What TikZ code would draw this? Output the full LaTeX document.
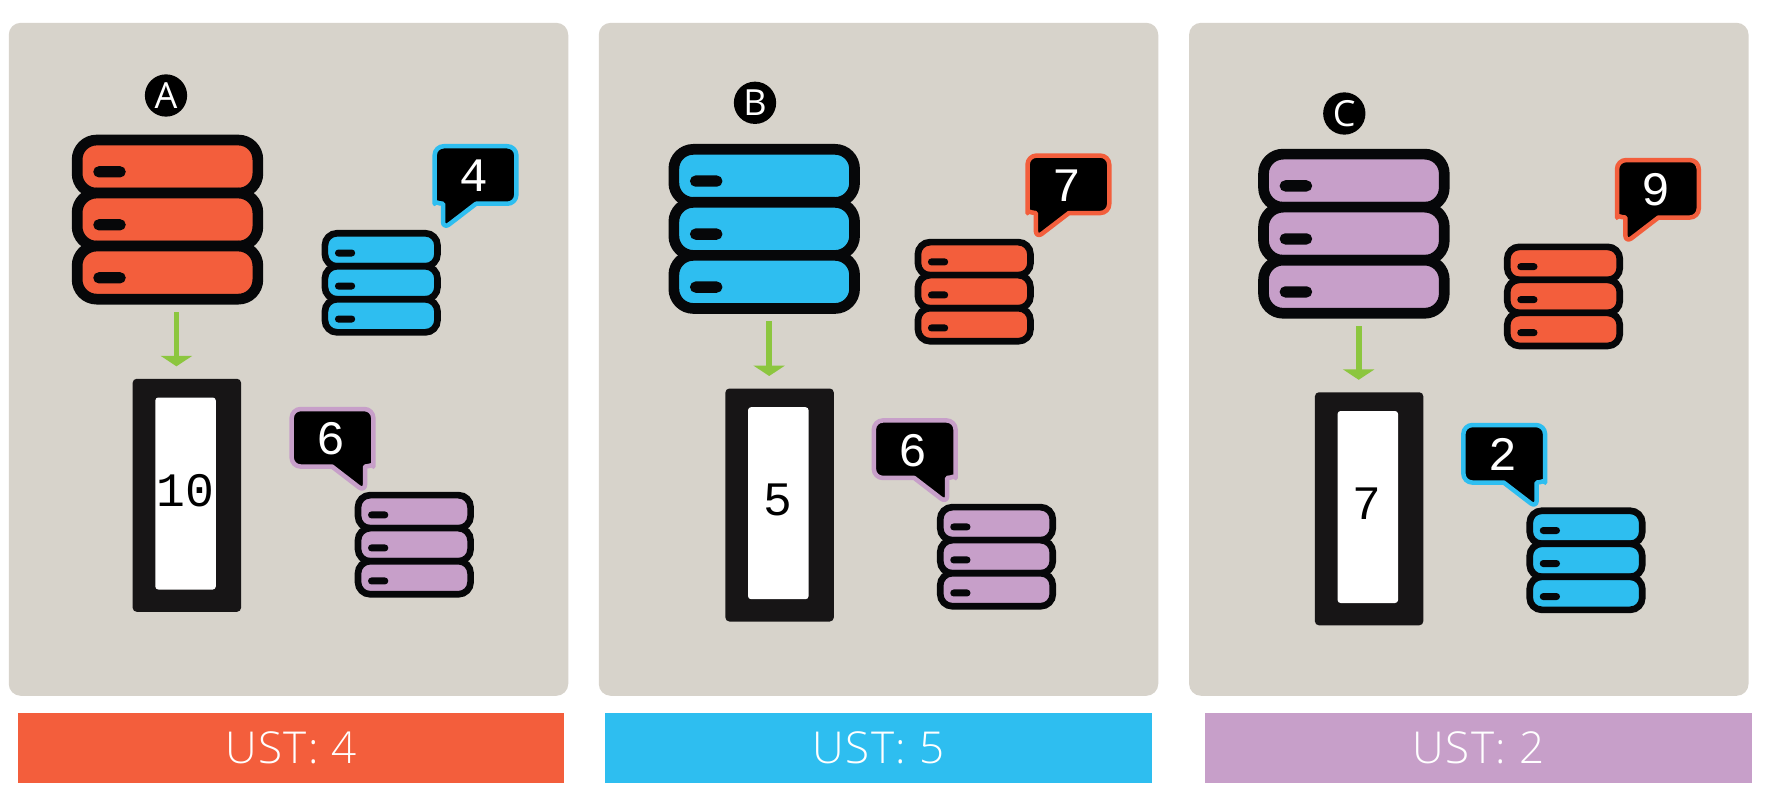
\documentclass[tikz,border=0pt]{standalone}
\usepackage{fontspec}
\setmainfont{Open Sans Light}
\newfontfamily\digitfont{Liberation Mono}
\newfontfamily\badgefont{Open Sans}
\usetikzlibrary{arrows.meta, calc}
\definecolor{MediumRed}{HTML}{F35E3C}
\definecolor{MediumBlue}{HTML}{2EBEF0}
\definecolor{MediumPurple}{HTML}{C79FC9}
\definecolor{PanelGrey}{HTML}{D7D3CB}
\definecolor{FlowGreen}{HTML}{8CC63F}
\definecolor{RackInk}{HTML}{060709}
\definecolor{ScreenInk}{HTML}{171516}

\tikzset{
    panel/.style={fill=PanelGrey, draw=none, rounded corners=12pt, minimum width=559.5pt,
        minimum height=673pt, outer sep=0pt},
    unit/.style n args={2}{draw=RackInk, fill=#1, line width=10.7pt*#2, rounded corners=19.5pt*#2,
        minimum width=180.7pt*#2, minimum height=53.1pt*#2, inner sep=0pt, outer sep=0pt},
    slot/.style={fill=RackInk, draw=none, rounded corners=5.6pt*#1, minimum width=32.5pt*#1,
        minimum height=11.3pt*#1, inner sep=0pt, outer sep=0pt},
    rack/.style={fill=ScreenInk, draw=none, rounded corners=4pt, minimum width=108.4pt,
        minimum height=233pt, outer sep=0pt},
    screen/.style={fill=white, draw=none, rounded corners=3pt, minimum width=60.5pt,
        minimum height=192pt, outer sep=0pt},
    count/.style={font=\digitfont\fontsize{48}{48}\selectfont, inner sep=0pt},
    badge/.style={circle, fill=black, minimum size=42.3pt, inner sep=0pt, text=white,
        font=\badgefont\fontsize{36}{36}\selectfont},
    bubble/.style={fill=black, line width=4.5pt, line join=round},
    total/.style={minimum width=546.5pt, minimum height=70pt, inner sep=0pt, outer sep=0pt,
        text=white, font=\fontsize{44}{44}\selectfont\addfontfeature{LetterSpace=3.5}},
    flow/.style={-{Triangle[length=10.4pt,width=31pt]}, line width=5.7pt, FlowGreen,
        shorten <=13pt, shorten >=12.5pt},
}

% name, x, y, colour, size
\newcommand{\serverstack}[5]{
    \foreach \k/\off in {1/-1, 2/0, 3/1}{
        \node[unit={#4}{#5}] (#1-\k) at (#2,{#3+\off*53*#5}) {};
        \node[slot=#5] (#1-s\k) at ([xshift=-58pt*#5,yshift=-5.2pt*#5]#1-\k.center) {};
    }
}
% name, x, y, colour, side, digit
\newcommand{\speechbox}[6]{
    \begin{scope}[shift={(#2,#3)}, xscale=#5]
        \draw[bubble, draw=#4] (0.5,28.75) [rounded corners=9pt] -- (40.85,28.75) -- (40.85,-28.75)
            -- (-40.85,-28.75) -- (-40.85,20) [sharp corners]
            .. controls (-40.85,25.5) and (-37.5,28.75) .. (-32.5,28.75)
            -- (-32.5,47) .. controls (-32.5,51) and (-29,51.5) .. (-26.5,49.5) -- cycle;
        \node[count, text=white, xshift=-1.7pt, yshift=-1pt] (#1) at (0,0) {#6};
    \end{scope}
}
% name, x, y, digit
\newcommand{\rackview}[4]{
    \node[rack] (#1) at (#2,#3) {};
    \node[screen] (#1-screen) at ([xshift=-1.3pt,yshift=1.8pt]#1.center) {};
    \node[count] (#1-count) at ([xshift=-0.5pt,yshift=3pt]#1-screen.center) {#4};
}

\begin{document}
\begin{tikzpicture}[x=1pt, y=-1pt]
\useasboundingbox (0,0) rectangle (1769,805);

% --- panel A ---
\node[panel] (panelA) at (288.5,359.3) {};
\node[badge] (labelA) at (166,95.5) {A};
\serverstack{mainA}{167.5}{219.6}{MediumRed}{1}
\rackview{rackA}{186.85}{495.3}{10}
\draw[flow] ([xshift=-10.4pt]rackA.north |- mainA-3.south) -- ([xshift=-10.4pt]rackA.north);
\serverstack{upperA}{381.2}{282.8}{MediumBlue}{0.623}
\speechbox{noteA}{475.5}{175}{MediumBlue}{1}{4}
\serverstack{lowerA}{414.3}{544.7}{MediumPurple}{0.623}
\speechbox{peerA}{332.5}{437.8}{MediumPurple}{-1}{6}
\node[total, fill=MediumRed] (totalA) at (291,748) {UST: 4};

% --- panel B ---
\node[panel] (panelB) at (878.5,359.3) {};
\node[badge] (labelB) at (755,102.8) {B};
\serverstack{mainB}{764.2}{228.9}{MediumBlue}{1}
\rackview{rackB}{779.6}{505}{5}
\draw[flow] ([xshift=-10.4pt]rackB.north |- mainB-3.south) -- ([xshift=-10.4pt]rackB.north);
\serverstack{upperB}{974.2}{291.7}{MediumRed}{0.623}
\speechbox{noteB}{1068.4}{184.3}{MediumRed}{1}{7}
\serverstack{lowerB}{996.5}{556.7}{MediumPurple}{0.623}
\speechbox{peerB}{914.7}{449.2}{MediumPurple}{-1}{6}
\node[total, fill=MediumBlue] (totalB) at (878.3,748) {UST: 5};

% --- panel C ---
\node[panel] (panelC) at (1468.8,359.3) {};
\node[badge] (labelC) at (1344.3,113.5) {C};
\serverstack{mainC}{1353.9}{233.7}{MediumPurple}{1}
\rackview{rackC}{1369.1}{508.8}{7}
\draw[flow] ([xshift=-10.4pt]rackC.north |- mainC-3.south) -- ([xshift=-10.4pt]rackC.north);
\serverstack{upperC}{1563.5}{296.4}{MediumRed}{0.623}
\speechbox{noteC}{1657.9}{188.8}{MediumRed}{1}{9}
\serverstack{lowerC}{1586}{560.3}{MediumBlue}{0.623}
\speechbox{peerC}{1504.2}{453.8}{MediumBlue}{-1}{2}
\node[total, fill=MediumPurple] (totalC) at (1478.5,748) {UST: 2};

\end{tikzpicture}
\end{document}
